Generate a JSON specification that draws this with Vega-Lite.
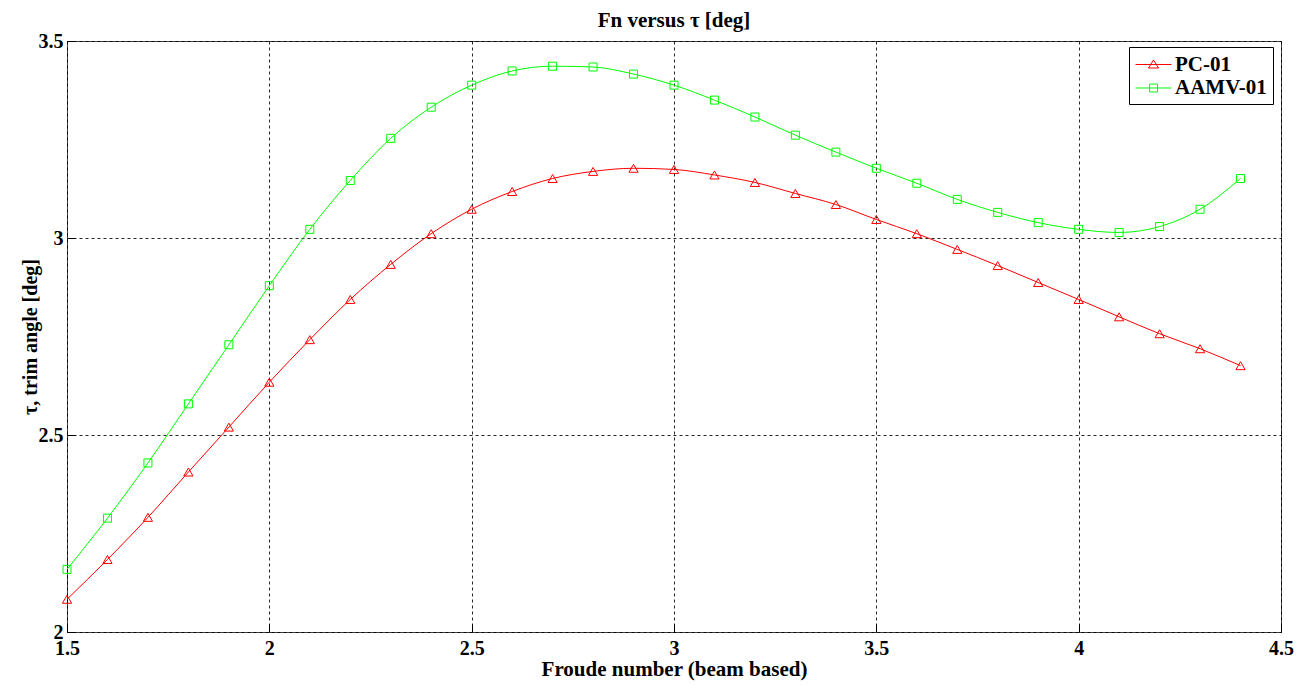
{
  "$schema": "https://vega.github.io/schema/vega-lite/v6.json",
  "width": 1214,
  "height": 591,
  "autosize": {"type": "none"},
  "padding": {"left": 67, "top": 41, "right": 31, "bottom": 53},
  "background": "white",
  "title": {
    "text": "Fn versus τ [deg]",
    "font": "Liberation Serif",
    "fontSize": 21,
    "fontWeight": "bold",
    "color": "#000",
    "anchor": "middle",
    "offset": 0
  },
  "config": {
    "view": {"stroke": "#444", "strokeWidth": 1},
    "axis": {
      "labelFont": "Liberation Serif",
      "labelFontSize": 20,
      "labelFontWeight": "bold",
      "labelColor": "#000",
      "titleFont": "Liberation Serif",
      "titleFontSize": 20,
      "titleFontWeight": "bold",
      "titleColor": "#000",
      "domain": false,
      "ticks": true,
      "tickSize": -8,
      "tickColor": "#000",
      "tickWidth": 1,
      "grid": true,
      "gridColor": "#000",
      "gridDash": [3, 3],
      "gridWidth": 1,
      "gridOpacity": 0.85
    }
  },
  "data": {
    "values": [
      {"x": 1.5, "y": 2.083, "series": "PC-01"},
      {"x": 1.6, "y": 2.184, "series": "PC-01"},
      {"x": 1.7, "y": 2.291, "series": "PC-01"},
      {"x": 1.8, "y": 2.406, "series": "PC-01"},
      {"x": 1.9, "y": 2.520, "series": "PC-01"},
      {"x": 2.0, "y": 2.634, "series": "PC-01"},
      {"x": 2.1, "y": 2.742, "series": "PC-01"},
      {"x": 2.2, "y": 2.844, "series": "PC-01"},
      {"x": 2.3, "y": 2.933, "series": "PC-01"},
      {"x": 2.4, "y": 3.011, "series": "PC-01"},
      {"x": 2.5, "y": 3.073, "series": "PC-01"},
      {"x": 2.6, "y": 3.118, "series": "PC-01"},
      {"x": 2.7, "y": 3.151, "series": "PC-01"},
      {"x": 2.8, "y": 3.169, "series": "PC-01"},
      {"x": 2.9, "y": 3.177, "series": "PC-01"},
      {"x": 3.0, "y": 3.174, "series": "PC-01"},
      {"x": 3.1, "y": 3.160, "series": "PC-01"},
      {"x": 3.2, "y": 3.141, "series": "PC-01"},
      {"x": 3.3, "y": 3.113, "series": "PC-01"},
      {"x": 3.4, "y": 3.085, "series": "PC-01"},
      {"x": 3.5, "y": 3.047, "series": "PC-01"},
      {"x": 3.6, "y": 3.011, "series": "PC-01"},
      {"x": 3.7, "y": 2.971, "series": "PC-01"},
      {"x": 3.8, "y": 2.930, "series": "PC-01"},
      {"x": 3.9, "y": 2.887, "series": "PC-01"},
      {"x": 4.0, "y": 2.844, "series": "PC-01"},
      {"x": 4.1, "y": 2.800, "series": "PC-01"},
      {"x": 4.2, "y": 2.757, "series": "PC-01"},
      {"x": 4.3, "y": 2.719, "series": "PC-01"},
      {"x": 4.4, "y": 2.676, "series": "PC-01"},
      {"x": 1.5, "y": 2.159, "series": "AAMV-01"},
      {"x": 1.6, "y": 2.289, "series": "AAMV-01"},
      {"x": 1.7, "y": 2.429, "series": "AAMV-01"},
      {"x": 1.8, "y": 2.579, "series": "AAMV-01"},
      {"x": 1.9, "y": 2.729, "series": "AAMV-01"},
      {"x": 2.0, "y": 2.879, "series": "AAMV-01"},
      {"x": 2.1, "y": 3.022, "series": "AAMV-01"},
      {"x": 2.2, "y": 3.146, "series": "AAMV-01"},
      {"x": 2.3, "y": 3.253, "series": "AAMV-01"},
      {"x": 2.4, "y": 3.332, "series": "AAMV-01"},
      {"x": 2.5, "y": 3.388, "series": "AAMV-01"},
      {"x": 2.6, "y": 3.424, "series": "AAMV-01"},
      {"x": 2.7, "y": 3.436, "series": "AAMV-01"},
      {"x": 2.8, "y": 3.434, "series": "AAMV-01"},
      {"x": 2.9, "y": 3.416, "series": "AAMV-01"},
      {"x": 3.0, "y": 3.388, "series": "AAMV-01"},
      {"x": 3.1, "y": 3.350, "series": "AAMV-01"},
      {"x": 3.2, "y": 3.307, "series": "AAMV-01"},
      {"x": 3.3, "y": 3.261, "series": "AAMV-01"},
      {"x": 3.4, "y": 3.218, "series": "AAMV-01"},
      {"x": 3.5, "y": 3.177, "series": "AAMV-01"},
      {"x": 3.6, "y": 3.139, "series": "AAMV-01"},
      {"x": 3.7, "y": 3.098, "series": "AAMV-01"},
      {"x": 3.8, "y": 3.065, "series": "AAMV-01"},
      {"x": 3.9, "y": 3.039, "series": "AAMV-01"},
      {"x": 4.0, "y": 3.022, "series": "AAMV-01"},
      {"x": 4.1, "y": 3.014, "series": "AAMV-01"},
      {"x": 4.2, "y": 3.029, "series": "AAMV-01"},
      {"x": 4.3, "y": 3.073, "series": "AAMV-01"},
      {"x": 4.4, "y": 3.151, "series": "AAMV-01"}
    ]
  },
  "encoding": {
    "x": {
      "field": "x",
      "type": "quantitative",
      "scale": {"domain": [1.5, 4.5], "nice": false, "zero": false},
      "axis": {
        "values": [1.5, 2, 2.5, 3, 3.5, 4, 4.5],
        "format": "~g",
        "labelPadding": 14,
        "title": "Froude number (beam based)",
        "titleFontSize": 21,
        "titlePadding": 0,
        "labelFlush": false
      }
    },
    "y": {
      "field": "y",
      "type": "quantitative",
      "scale": {"domain": [2, 3.5], "nice": false, "zero": false},
      "axis": {
        "values": [2, 2.5, 3, 3.5],
        "format": "~g",
        "labelPadding": 12,
        "title": "τ, trim angle [deg]",
        "titlePadding": -2,
        "labelFlush": false
      }
    }
  },
  "layer": [
    {
      "mark": {"type": "line", "interpolate": "monotone", "strokeWidth": 1},
      "encoding": {
        "color": {
          "field": "series",
          "type": "nominal",
          "scale": {"domain": ["PC-01", "AAMV-01"], "range": ["#ff0000", "#00ff00"]},
          "legend": null
        }
      }
    },
    {
      "mark": {"type": "point", "filled": false, "strokeWidth": 1, "opacity": 1},
      "encoding": {
        "color": {
          "field": "series",
          "type": "nominal",
          "scale": {"domain": ["PC-01", "AAMV-01"], "range": ["#ff0000", "#00ff00"]},
          "legend": null
        },
        "shape": {
          "field": "series",
          "type": "nominal",
          "scale": {"domain": ["PC-01", "AAMV-01"], "range": ["triangle-up", "square"]},
          "legend": null
        },
        "size": {
          "field": "series",
          "type": "nominal",
          "scale": {"domain": ["PC-01", "AAMV-01"], "range": [85, 64]},
          "legend": null
        }
      }
    },
    {
      "mark": {"type": "point", "filled": false, "strokeWidth": 1, "opacity": 0, "size": 484},
      "encoding": {
        "color": {
          "field": "series",
          "type": "nominal",
          "scale": {"domain": ["PC-01", "AAMV-01"], "range": ["#ff0000", "#00ff00"]},
          "legend": {
            "title": null,
            "orient": "none",
            "legendX": 1062,
            "legendY": 6,
            "strokeColor": "#000",
            "fillColor": "#fff",
            "padding": 6,
            "labelFont": "Liberation Serif",
            "labelFontSize": 21,
            "labelFontWeight": "bold",
            "labelColor": "#000",
            "labelOffset": 17,
            "rowPadding": 1,
            "symbolSize": 484,
            "symbolStrokeWidth": 1,
            "symbolOpacity": 1
          }
        },
        "shape": {
          "field": "series",
          "type": "nominal",
          "scale": {
            "domain": ["PC-01", "AAMV-01"],
            "range": [
              "M-1,0L2.27,0M0.636,-0.41L1.09,0.32L0.18,0.32Z",
              "M-1,0.045L2.27,0.045M0.28,-0.315L1,-0.315L1,0.405L0.28,0.405Z"
            ]
          },
          "legend": {
            "title": null,
            "orient": "none",
            "legendX": 1062,
            "legendY": 6,
            "strokeColor": "#000",
            "fillColor": "#fff",
            "padding": 6,
            "labelFont": "Liberation Serif",
            "labelFontSize": 21,
            "labelFontWeight": "bold",
            "labelColor": "#000",
            "labelOffset": 17,
            "rowPadding": 1,
            "symbolSize": 484,
            "symbolStrokeWidth": 1,
            "symbolOpacity": 1
          }
        }
      }
    }
  ],
  "resolve": {
    "scale": {"color": "independent", "shape": "independent"}
  }
}
